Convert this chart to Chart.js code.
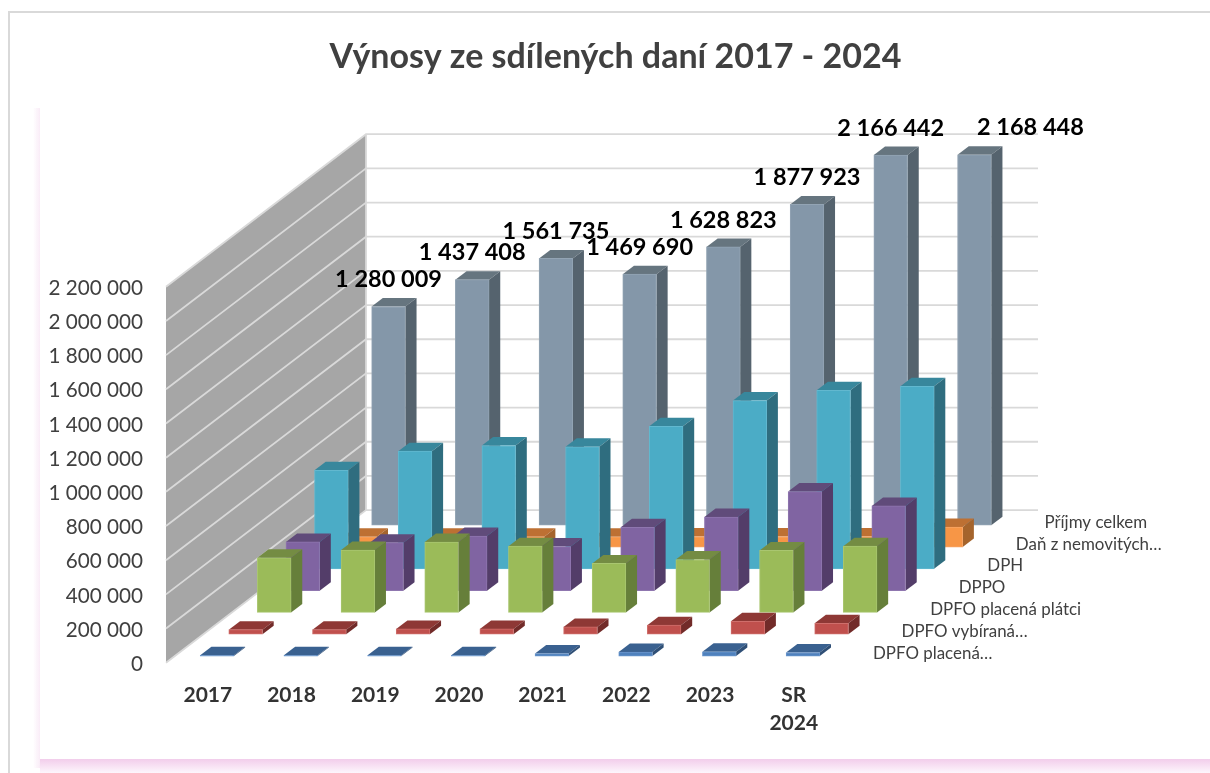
<!DOCTYPE html>
<html lang="cs">
<head>
<meta charset="utf-8">
<style>html,body{margin:0;padding:0;background:#fff}canvas{display:block}</style>
<script src="https://cdn.jsdelivr.net/npm/chart.js@4"></script>
</head>
<body>
<canvas id="c" width="1210" height="773"></canvas>
<script>
const categories = ['2017','2018','2019','2020','2021','2022','2023',['SR','2024']];
const tickValues = [0,200000,400000,600000,800000,1000000,1200000,1400000,1600000,1800000,2000000,2200000];
const seriesNames = ['DPFO placená…','DPFO vybíraná…','DPFO placená plátci','DPPO','DPH','Daň z nemovitých…','Příjmy celkem'];
const dpfoPlacena  = [4000,4000,4000,4000,15000,23000,25000,21000];
const dpfoVybirana = [27000,27000,31000,31000,43000,53000,76000,64000];
const dpfoPlatci   = [320000,365000,412000,388000,287000,310000,363000,388000];
const dppo         = [285000,281000,320000,258000,371000,431000,580000,496000];
const dph          = [577000,689000,722000,714000,834000,985000,1045000,1068000];
const danNemovit   = [60000,60000,60000,60000,62000,62000,62000,117000];
const prijmyCelkem = [1280009,1437408,1561735,1469690,1628823,1877923,2166442,2168448];

const seriesValues = [dpfoPlacena,dpfoVybirana,dpfoPlatci,dppo,dph,danNemovit,prijmyCelkem];
const frontColors  = ['#4F81BD','#C0504D','#9BBB59','#8064A2','#4BACC6','#F79646','#8497A9'];
const edgeColors   = ['#6A96CC','#CF6E6B','#A9C670','#8F76AF','#62B8CF','#F8A565','#93A4B4'];
const topColors    = ['#3A6190','#8E3835','#748C43','#604B7A','#38879C','#BD7033','#66757F'];
const sideColors   = ['#2F4F76','#722B29','#667F3A','#533D69','#2F6D7F','#A5642C','#55636E'];

const FONT = 'Lato, Carlito, sans-serif';
const WALL_DX = 200, WALL_DY = 152.6, SLOTS = 7;
const BAR_DX = 11.2, BAR_DY = 8.5;
const fmt = v => String(v).replace(/\B(?=(\d{3})+(?!\d))/g, ' ');

const scene3d = {
  id: 'scene3d',
  beforeDraw(chart) {
    const c = chart.ctx;
    c.save();
    c.fillStyle = '#D9D9D9';
    c.fillRect(8, 11, 1202, 2);
    c.fillRect(8, 11, 2, 762);
    let g = c.createLinearGradient(0, 759, 0, 773);
    g.addColorStop(0, '#F2CDEB'); g.addColorStop(1, '#FDF6FC');
    c.fillStyle = g; c.fillRect(40, 759, 1170, 14);
    g = c.createLinearGradient(33, 0, 40, 0);
    g.addColorStop(0, 'rgba(250,236,248,0)'); g.addColorStop(1, '#F9ECF7');
    c.fillStyle = g; c.fillRect(33, 108, 7, 660);
    c.restore();
  },
  afterLayout(chart) {
    const t = chart.titleBlock;
    if (t) { t.left = 20; t.right = 1211; }
  },
  afterDatasetsUpdate(chart) {
    chart.data.datasets.forEach((ds, k) => {
      const f = (k + 0.305) / SLOTS;
      chart.getDatasetMeta(k).data.forEach(el => {
        el.x += WALL_DX * f + 0.5;
        el.y -= WALL_DY * f;
        el.base -= WALL_DY * f;
      });
    });
  },
  beforeDatasetsDraw(chart) {
    const c = chart.ctx, a = chart.chartArea, y = chart.scales.y;
    c.save();
    c.fillStyle = '#A6A6A6';
    c.beginPath();
    c.moveTo(a.left, a.top);
    c.lineTo(a.left + WALL_DX, a.top - WALL_DY);
    c.lineTo(a.left + WALL_DX, a.bottom - WALL_DY);
    c.lineTo(a.left, a.bottom);
    c.closePath();
    c.fill();
    c.strokeStyle = '#D9D9D9';
    c.lineWidth = 1.8;
    y.ticks.forEach(t => {
      const p = y.getPixelForValue(t.value);
      c.beginPath();
      c.moveTo(a.left, p);
      c.lineTo(a.left + WALL_DX, p - WALL_DY);
      c.lineTo(a.right + WALL_DX + 2.4, p - WALL_DY);
      c.stroke();
    });
    c.beginPath();
    c.moveTo(a.left + WALL_DX, a.top - WALL_DY);
    c.lineTo(a.left + WALL_DX, a.bottom - WALL_DY);
    c.stroke();
    c.restore();
  },
  beforeDatasetDraw(chart, args) {
    const c = chart.ctx, k = args.index;
    c.save();
    args.meta.data.forEach(el => {
      const l = el.x - el.width / 2, r = el.x + el.width / 2;
      c.fillStyle = topColors[k];
      c.beginPath();
      c.moveTo(l, el.y); c.lineTo(l + BAR_DX, el.y - BAR_DY);
      c.lineTo(r + BAR_DX, el.y - BAR_DY); c.lineTo(r, el.y);
      c.closePath(); c.fill();
      c.fillStyle = sideColors[k];
      c.beginPath();
      c.moveTo(r, el.y); c.lineTo(r + BAR_DX, el.y - BAR_DY);
      c.lineTo(r + BAR_DX, el.base - BAR_DY); c.lineTo(r, el.base);
      c.closePath(); c.fill();
    });
    c.restore();
  },
  afterDatasetsDraw(chart) {
    const c = chart.ctx, a = chart.chartArea;
    c.save();
    c.font = '16.9px ' + FONT;
    c.fillStyle = '#404040';
    c.textAlign = 'left';
    c.textBaseline = 'middle';
    seriesNames.forEach((n, k) => {
      const f = k / SLOTS;
      c.fillText(n, a.right + 37.4 + WALL_DX * f, a.bottom - 9.5 - WALL_DY * f);
    });
    const last = seriesValues.length - 1;
    c.font = 'bold 23.5px ' + FONT;
    c.fillStyle = '#000';
    c.textAlign = 'center';
    chart.getDatasetMeta(last).data.forEach((el, i) => {
      const shift = i === categories.length - 1 ? 56 : 0;
      c.fillText(fmt(seriesValues[last][i]), el.x + shift, el.y - 27);
    });
    c.restore();
  }
};

new Chart(document.getElementById('c'), {
  type: 'bar',
  data: {
    labels: categories,
    datasets: seriesValues.map((v, k) => ({
      label: seriesNames[k],
      data: v,
      backgroundColor: frontColors[k],
      borderColor: edgeColors[k],
      borderWidth: 1,
      borderSkipped: false,
      grouped: false,
      barThickness: 33.7,
      clip: false
    }))
  },
  options: {
    responsive: false,
    animation: false,
    events: [],
    layout: { padding: { left: 20, right: 374.4, top: 0, bottom: 10.3 } },
    plugins: {
      legend: { display: false },
      tooltip: { enabled: false },
      title: {
        display: true,
        text: 'Výnosy ze sdílených daní 2017 - 2024',
        color: '#404040',
        font: { family: FONT, size: 34, weight: 'bold', lineHeight: 1.2 },
        padding: { top: 37, bottom: 209 }
      }
    },
    scales: {
      x: {
        grid: { display: false },
        border: { display: false },
        afterFit(s) { s.height = 100; },
        ticks: {
          color: '#333',
          maxRotation: 0,
          autoSkip: false,
          padding: 11,
          font: { family: FONT, size: 21, weight: 'bold', lineHeight: 1.33 }
        }
      },
      y: {
        min: 0,
        max: 2200000,
        grid: { display: false },
        border: { display: false },
        afterFit(s) { s.width = 146; },
        afterBuildTicks(s) { s.ticks = tickValues.map(value => ({ value })); },
        ticks: {
          color: '#404040',
          autoSkip: false,
          padding: 15,
          labelOffset: 1.5,
          font: { family: FONT, size: 20.7 },
          callback: v => fmt(v)
        }
      }
    }
  },
  plugins: [scene3d]
});
</script>
</body>
</html>
